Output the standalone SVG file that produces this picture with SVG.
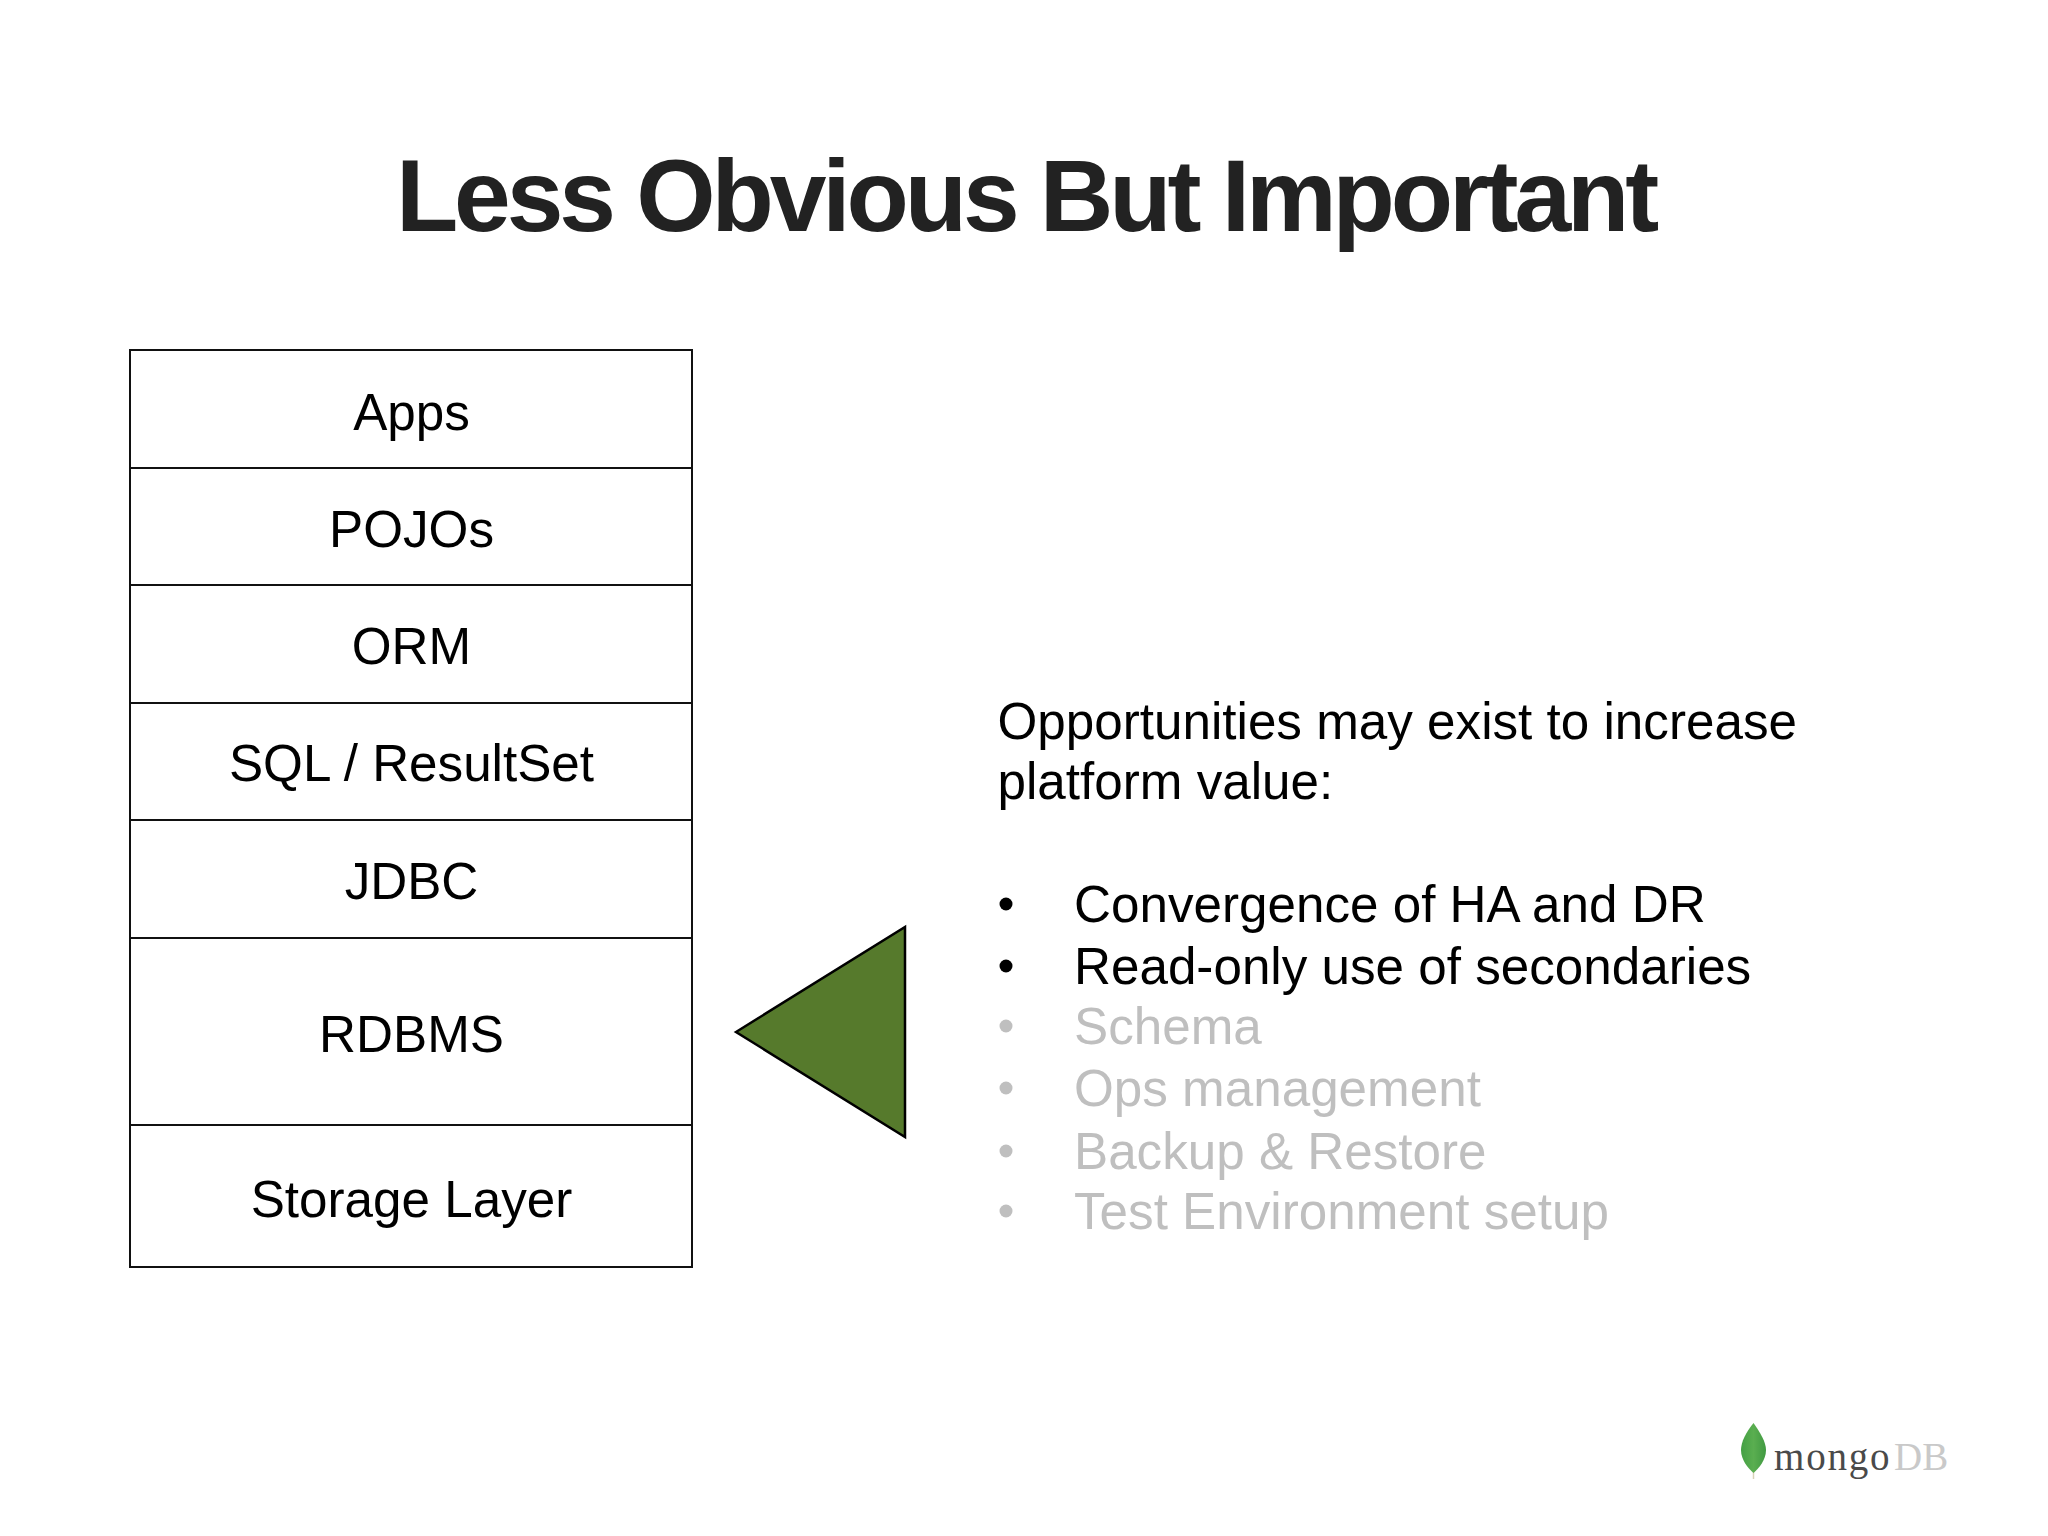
<svg xmlns="http://www.w3.org/2000/svg" width="2048" height="1536" viewBox="0 0 2048 1536">
<defs><linearGradient id="leaf" x1="0" y1="0" x2="1" y2="0"><stop offset="0" stop-color="#44a044"/><stop offset="0.5" stop-color="#5aae50"/><stop offset="1" stop-color="#419a42"/></linearGradient></defs>
<style>
text{font-family:"Liberation Sans",Arial,sans-serif}
.layer rect{fill:#fff;stroke:#111;stroke-width:2}
.layer text{font-size:51.2px;fill:#000;text-anchor:middle}
.body{font-size:51.2px;fill:#000}
.muted{fill:#bfbfbf}
.dot{fill:#000}
.dot.muted{fill:#bfbfbf}
</style>
<rect width="2048" height="1536" fill="#fff"/>
<text x="1025.5" y="230.5" font-size="102" font-weight="700" fill="#222" letter-spacing="-4.1" text-anchor="middle">Less Obvious But Important</text>
<g id="apps" class="layer"><rect x="130" y="350" width="562" height="118"/><text x="411.5" y="430">Apps</text></g>
<g id="pojos" class="layer"><rect x="130" y="468" width="562" height="117"/><text x="411.5" y="547">POJOs</text></g>
<g id="orm" class="layer"><rect x="130" y="585" width="562" height="118"/><text x="411.5" y="664">ORM</text></g>
<g id="sql" class="layer"><rect x="130" y="703" width="562" height="117"/><text x="411.5" y="781">SQL / ResultSet</text></g>
<g id="jdbc" class="layer"><rect x="130" y="820" width="562" height="118"/><text x="411.5" y="899">JDBC</text></g>
<g id="rdbms" class="layer"><rect x="130" y="938" width="562" height="187"/><text x="411.5" y="1052">RDBMS</text></g>
<g id="storage" class="layer"><rect x="130" y="1125" width="562" height="142"/><text x="411.5" y="1217">Storage Layer</text></g>
<g id="pointer"><polygon points="736,1032 905,927 905,1137" fill="#567a2c" stroke="#000" stroke-width="2.5" stroke-linejoin="miter"/></g>
<g id="notes">
<text class="body" x="997.5" y="739">Opportunities may exist to increase</text>
<text class="body" x="997.5" y="799">platform value:</text>
<circle class="dot" cx="1006" cy="904" r="6.5"/><text class="body" x="1074" y="922">Convergence of HA and DR</text>
<circle class="dot" cx="1006" cy="966" r="6.5"/><text class="body" x="1074" y="984">Read-only use of secondaries</text>
<circle class="dot muted" cx="1006" cy="1026" r="6.5"/><text class="body muted" x="1074" y="1044">Schema</text>
<circle class="dot muted" cx="1006" cy="1088" r="6.5"/><text class="body muted" x="1074" y="1106">Ops management</text>
<circle class="dot muted" cx="1006" cy="1151" r="6.5"/><text class="body muted" x="1074" y="1169">Backup &amp; Restore</text>
<circle class="dot muted" cx="1006" cy="1211" r="6.5"/><text class="body muted" x="1074" y="1229">Test Environment setup</text>
</g>
<g id="logo">
<path d="M1753.5 1472v7" stroke="#d8d2b8" stroke-width="1.5" fill="none"/>
<path d="M1753.5 1423C1746 1432 1741 1442 1741 1450C1741 1460 1748 1468 1753.5 1473C1759 1468 1766 1460 1766 1450C1766 1442 1760 1432 1753.5 1423Z" fill="url(#leaf)"/>
<text x="1774" y="1470" font-size="39" letter-spacing="1.8" fill="#4a4a4a" style="font-family:'Liberation Serif',serif">mongo</text>
<text x="1894" y="1470" font-size="39" fill="#c9c9c9" style="font-family:'Liberation Serif',serif">DB</text>
</g>
</svg>
